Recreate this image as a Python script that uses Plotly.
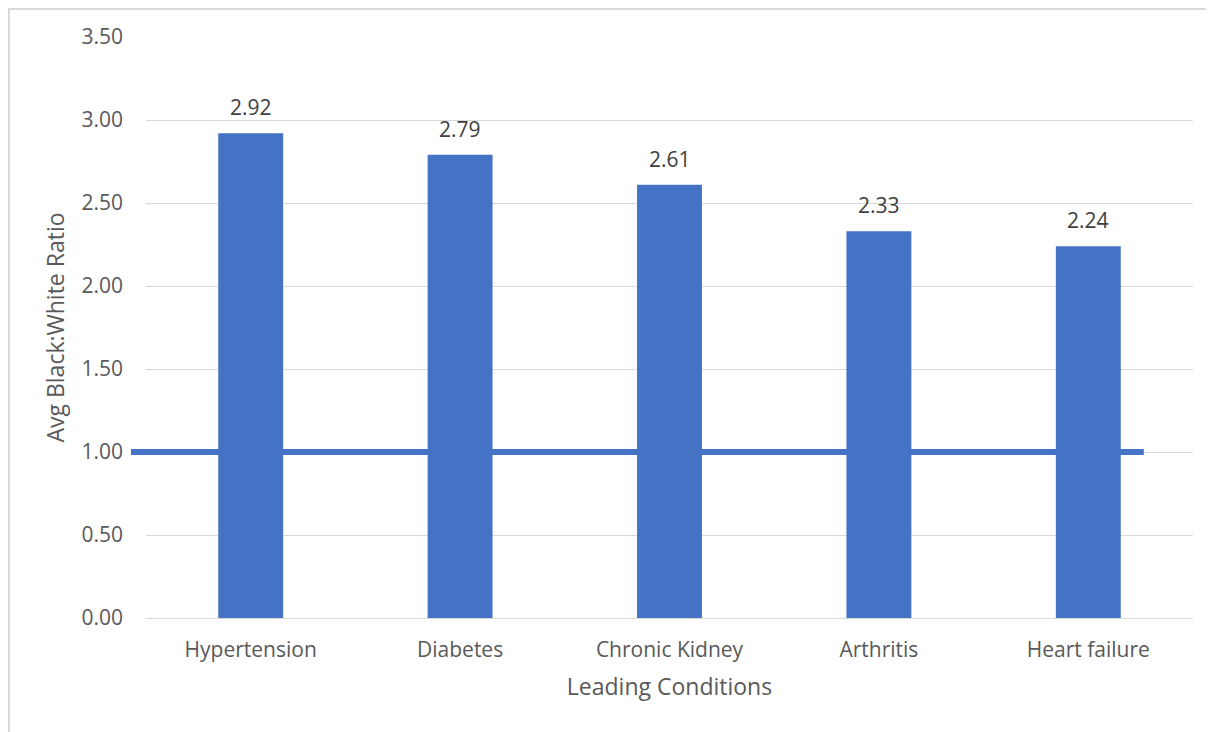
import plotly.graph_objects as go

categories = ["Hypertension", "Diabetes", "Chronic Kidney", "Arthritis", "Heart failure"]
ratios = [2.92, 2.79, 2.61, 2.33, 2.24]
reference_value = 1.0
y_ticks = [0, 0.5, 1.0, 1.5, 2.0, 2.5, 3.0, 3.5]

FONT = "Open Sans"
TXT = "#595959"
BLUE = "#4472C4"
FS = 21
FT = 23

fig = go.Figure()
fig.add_trace(go.Bar(
    x=categories, y=ratios, marker_color=BLUE, marker_line_width=0,
    cliponaxis=False, width=0.31,
))

for c, v in zip(categories, ratios):
    fig.add_annotation(x=c, y=v, xref="x", yref="y", text=f"{v:.2f}",
                       showarrow=False, yanchor="bottom", yshift=10,
                       font=dict(family=FONT, size=FS, color="#404040"))

fig.add_shape(type="line", xref="paper", yref="y", x0=-0.0143, x1=0.953,
              y0=reference_value, y1=reference_value,
              line=dict(color=BLUE, width=6), layer="above")

# chart border
fig.add_shape(type="rect", xref="paper", yref="paper", x0=-0.1309, x1=1.2,
              y0=-0.5, y1=1.0482, line=dict(color="#d9d9d9", width=2), layer="below")

fig.update_layout(
    width=1214, height=732,
    margin=dict(l=138, r=29, t=29, b=122),
    plot_bgcolor="white", paper_bgcolor="white",
    showlegend=False,
    font=dict(family=FONT, size=FS, color=TXT),
)
fig.update_yaxes(
    range=[0, 3.5], tickvals=y_ticks, tickformat=".2f",
    showgrid=True, gridcolor="#d9d9d9", gridwidth=1,
    zeroline=True, zerolinecolor="#d9d9d9", zerolinewidth=1,
    showline=False, ticks="", ticklabelstandoff=22,
    tickfont=dict(family=FONT, size=FS, color=TXT),
    title=dict(text="Avg Black:White Ratio", standoff=10,
               font=dict(family=FONT, size=FT, color=TXT)),
)
fig.update_xaxes(
    showline=False, ticks="", ticklabelstandoff=17,
    tickfont=dict(family=FONT, size=FS, color=TXT),
    title=dict(text="Leading Conditions", standoff=16,
               font=dict(family=FONT, size=FT, color=TXT)),
)

fig.write_html("out.html")
